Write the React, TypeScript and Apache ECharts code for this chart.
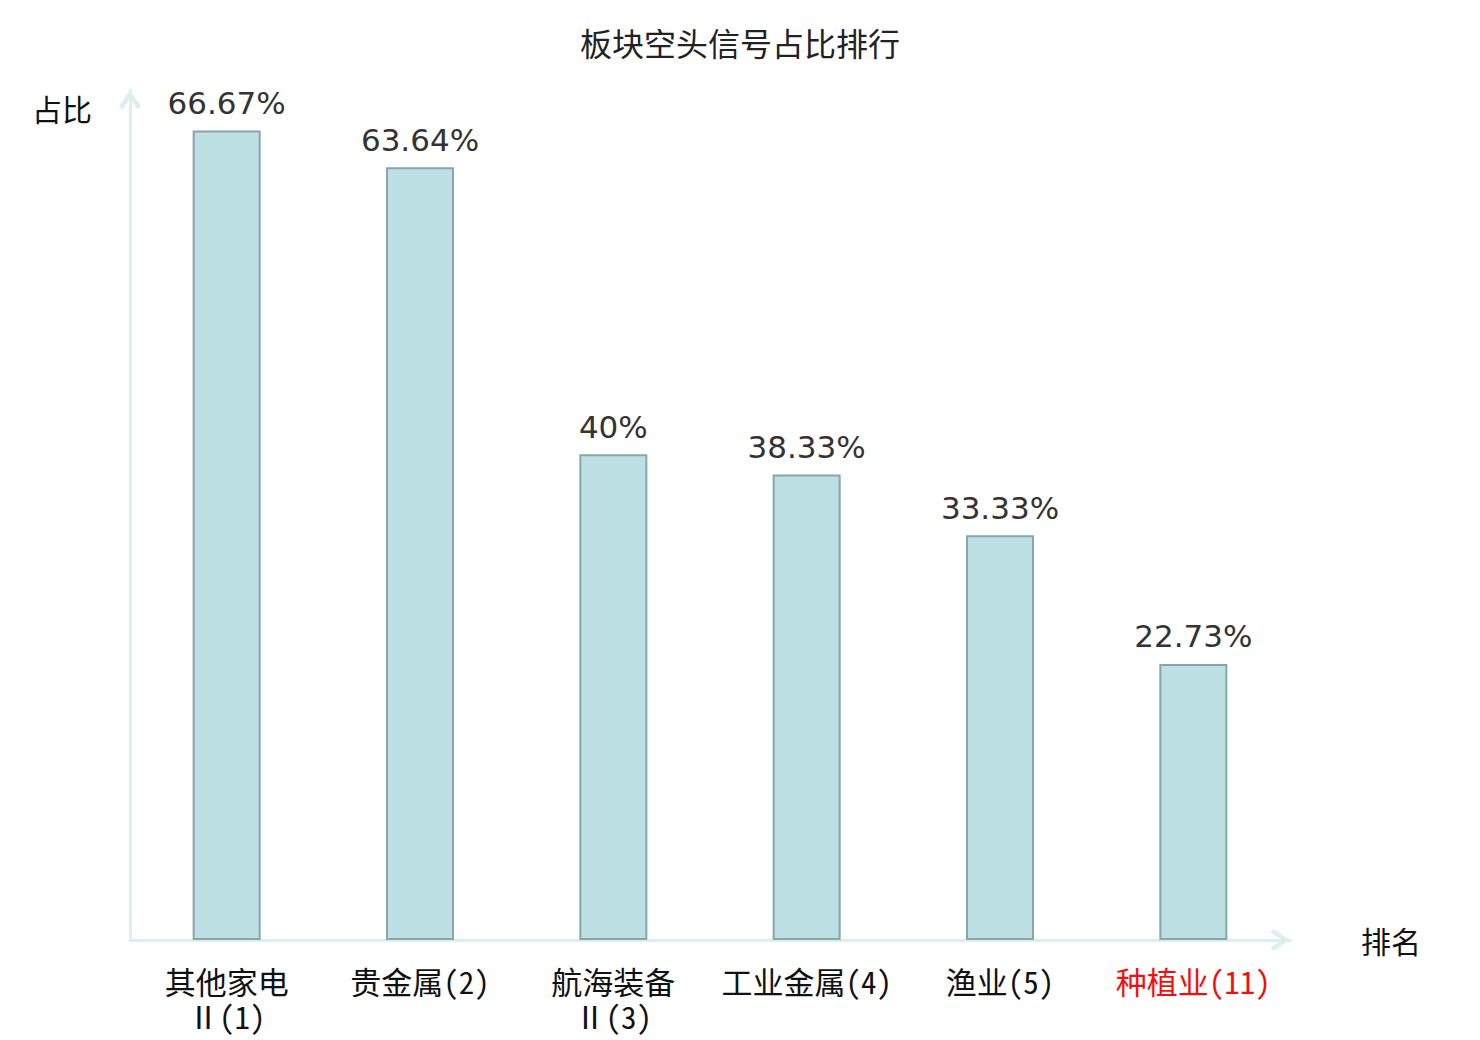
import React, { useEffect, useRef } from "react";
import * as echarts from "echarts";

const titleText = "板块空头信号占比排行";
const categories = ["其他家电\nⅡ(1)", "贵金属(2)", "航海装备\nⅡ(3)", "工业金属(4)", "渔业(5)", "种植业(11)"];
const values = [66.67, 63.64, 40, 38.33, 33.33, 22.73];
const highlightIndex = 5;
const yName = "占比";
const xName = "排名";

const chevron = "path://M11,0 L22,16 L18.5,19.5 L11,7 L3.5,19.5 L0,16 Z";

export default function App() {
  const ref = useRef<HTMLDivElement>(null);
  useEffect(() => {
    if (!ref.current) return;
    const chart = echarts.init(ref.current, null, { renderer: "svg" });
    const axisColor = "#dbf0ed";
    chart.setOption({
      animation: false,
      backgroundColor: "#ffffff",
      title: {
        text: titleText,
        left: "center",
        top: 21,
        textStyle: {
          fontSize: 32,
          fontWeight: "normal",
          color: "#222",
          fontFamily: "Noto Sans CJK SC",
        },
      },
      grid: { left: 130, right: 190, top: 90, bottom: 100, containLabel: false },
      xAxis: {
        type: "category",
        data: categories,
        name: xName,
        nameLocation: "end",
        nameGap: 71,
        nameTextStyle: { fontSize: 30, color: "#111", fontFamily: "Noto Sans CJK SC" },
        axisLine: {
          show: true,
          lineStyle: { color: axisColor, width: 3 },
          symbol: ["none", chevron],
          symbolSize: [22, 20],
          symbolOffset: [0, -10],
        },
        axisTick: { show: false },
        axisLabel: {
          interval: 0,
          margin: 23,
          fontSize: 31,
          lineHeight: 35,
          fontFamily: "'Noto Sans Mono CJK SC', 'Noto Sans CJK SC'",
          color: (_v: string, i: number) => (i === highlightIndex ? "#ee1111" : "#111"),
        },
        splitLine: { show: false },
      },
      yAxis: {
        type: "value",
        min: 0,
        max: 70,
        name: yName,
        nameLocation: "end",
        nameGap: 0,
        nameTextStyle: {
          fontSize: 30,
          color: "#111",
          fontFamily: "Noto Sans CJK SC",
          align: "right",
          verticalAlign: "top",
          padding: [3, 38, 0, 0],
        },
        axisLine: {
          show: true,
          lineStyle: { color: axisColor, width: 3 },
          symbol: ["none", chevron],
          symbolSize: [22, 20],
          symbolOffset: [0, -10],
        },
        axisTick: { show: false },
        axisLabel: { show: false },
        splitLine: { show: false },
      },
      series: [
        {
          type: "bar",
          data: values,
          barWidth: 68,
          itemStyle: { color: "#bce0e3", borderColor: "#88a6a6", borderWidth: 2 },
          label: {
            show: true,
            position: "top",
            distance: 12,
            fontSize: 31,
            color: "#333",
            fontFamily: "DejaVu Sans",
            formatter: (p: any) => `${p.value}%`,
          },
        },
      ],
    });
    return () => chart.dispose();
  }, []);
  return (
    <div
      ref={ref}
      style={{ position: "absolute", left: 0, top: 0, width: 1480, height: 1040 }}
    />
  );
}
